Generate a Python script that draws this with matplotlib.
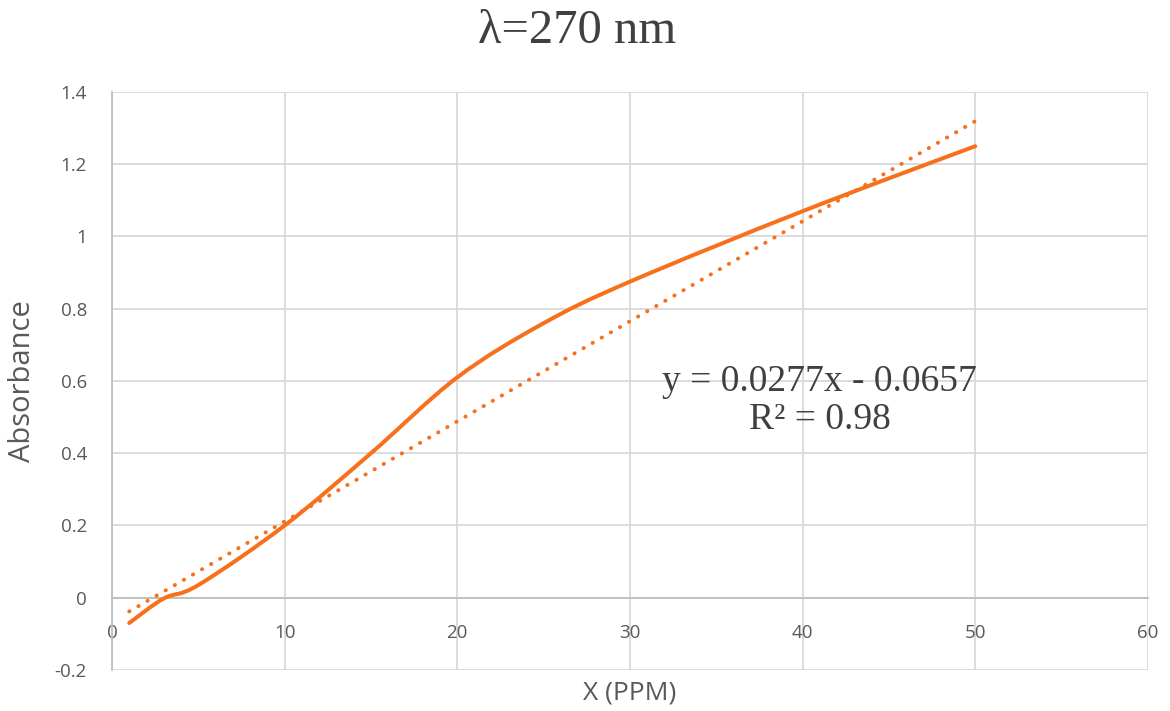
import numpy as np
import matplotlib
matplotlib.use('Agg')
import matplotlib.pyplot as plt
from matplotlib.path import Path
from matplotlib.patches import PathPatch

# values
ppm = [1, 3, 5, 10, 15, 20, 25, 30, 40, 50]
absorbance = [-0.07, -0.002, 0.035, 0.2, 0.4, 0.61, 0.76, 0.875, 1.07, 1.25]

# linear trendline as printed on the chart
slope = 0.0277
intercept = -0.0657
trend_x = [1, 50]
eq_text = 'y = 0.0277x - 0.0657\nR² = 0.98'

title = 'λ=270 nm'
xlabel = 'X (PPM)'
ylabel = 'Absorbance'
xticks = [0, 10, 20, 30, 40, 50, 60]
yticks = [-0.2, 0, 0.2, 0.4, 0.6, 0.8, 1, 1.2, 1.4]
ytick_labels = ['-0.2', '0', '0.2', '0.4', '0.6', '0.8', '1', '1.2', '1.4']

orange = '#f7711c'
grid_c = '#d9d9d9'
text_c = '#595959'


def smooth_path(xs, ys):
    # Excel-style smoothed line: cubic Bezier segments through each point
    pts = np.column_stack([xs, ys]).astype(float)
    n = len(pts)
    verts = [pts[0]]
    codes = [Path.MOVETO]
    for i in range(n - 1):
        p0 = pts[i - 1] if i > 0 else pts[i]
        p1, p2 = pts[i], pts[i + 1]
        p3 = pts[i + 2] if i + 2 < n else pts[i + 1]
        c1 = p1 + (p2 - p0) / 6
        c2 = p2 - (p3 - p1) / 6
        verts += [c1, c2, p2]
        codes += [Path.CURVE4] * 3
    return Path(verts, codes)


fig = plt.figure(figsize=(11.7, 7.11), dpi=100)
ax = fig.add_axes([0.0957, 0.0577, 0.8854, 0.8129])

ax.set_xlim(0, 60)
ax.set_ylim(-0.2, 1.4)
ax.set_xticks(xticks)
ax.set_yticks(yticks)
ax.set_yticklabels(ytick_labels)
ax.grid(True, color=grid_c, lw=1.3)
ax.set_axisbelow(True)

for s in ['top', 'right']:
    ax.spines[s].set_visible(False)
ax.spines['left'].set_color('#bfbfbf')
ax.spines['left'].set_linewidth(1.3)
ax.spines['bottom'].set_position(('data', 0))
ax.spines['bottom'].set_color('#bfbfbf')
ax.spines['bottom'].set_linewidth(1.3)
ax.tick_params(axis='both', length=0, labelsize=13.5, labelcolor=text_c)
ax.tick_params(axis='x', pad=19)
ax.tick_params(axis='y', pad=18)
for lab in ax.get_xticklabels() + ax.get_yticklabels():
    lab.set_fontfamily('Open Sans')

# trendline
tx = np.array(trend_x, dtype=float)
ax.plot(tx, slope * tx + intercept, color=orange, lw=2.8,
        linestyle=(0, (0.1, 2.6)), dash_capstyle='round', zorder=3)

# smoothed data line
ax.add_patch(PathPatch(smooth_path(ppm, absorbance), facecolor='none',
                       edgecolor=orange, lw=2.9, capstyle='round', zorder=4))

ax.text(41, 0.545, eq_text, ha='center', va='center', fontsize=27,
        family='Liberation Serif', color='#404040', linespacing=1.12)

fig.text(0.493, 0.956, title, ha='center', va='center', fontsize=35,
         family='Liberation Serif', color='#404040')
ax.set_xlabel(xlabel, fontsize=19, family='Open Sans', color=text_c)
ax.xaxis.set_label_coords(0.5, -0.018)
ax.set_ylabel(ylabel, fontsize=21, family='Open Sans', color=text_c)
ax.yaxis.set_label_coords(-0.072, 0.5)

fig.savefig('out.png', dpi=100)
